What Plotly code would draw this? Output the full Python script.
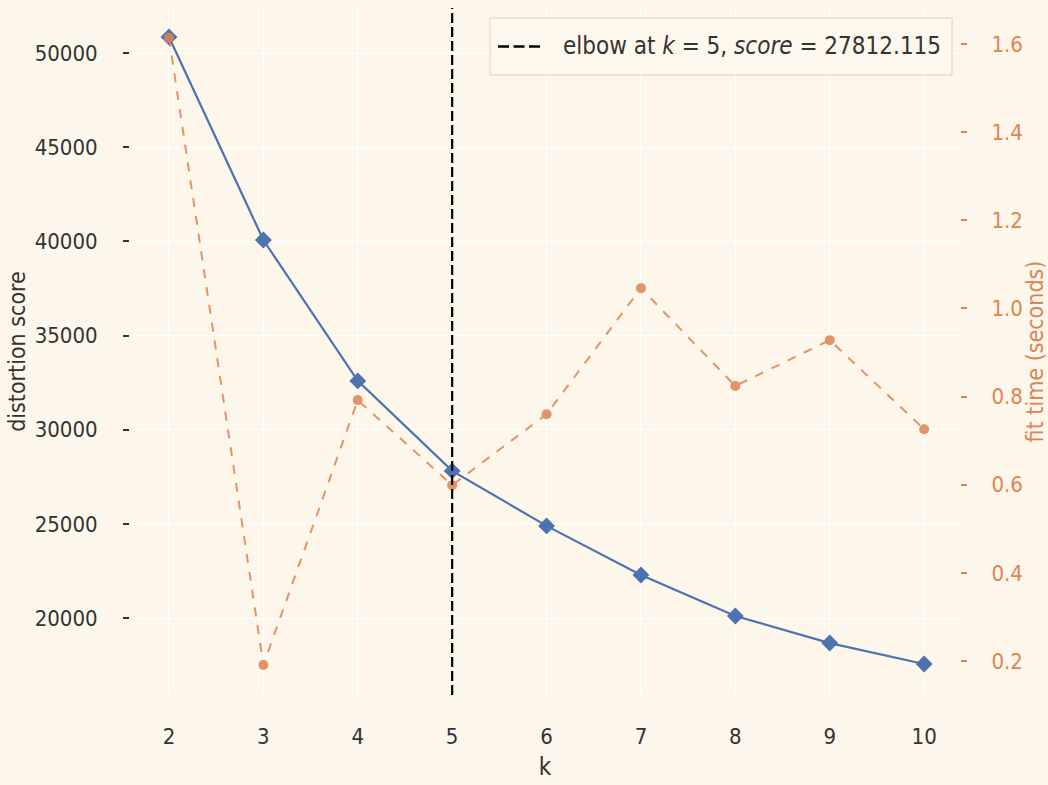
import plotly.graph_objects as go

k_values = [2, 3, 4, 5, 6, 7, 8, 9, 10]
distortion = [50850, 40070, 32590, 27812.115, 24890, 22280, 20110, 18670, 17560]
fit_time = [1.614, 0.191, 0.792, 0.599, 0.760, 1.046, 0.824, 0.928, 0.726]
left_ticks = [20000, 25000, 30000, 35000, 40000, 45000, 50000]
right_ticks = [0.2, 0.4, 0.6, 0.8, 1.0, 1.2, 1.4, 1.6]
elbow_k = 5
elbow_score = 27812.115

BLUE = "#4c72b0"
ORANGE = "#dd8452"
BG = "#fdf6ea"
FONT = "DejaVu Sans Condensed, DejaVu Sans, sans-serif"

fig = go.Figure()
fig.add_trace(go.Scatter(
    x=k_values, y=distortion, mode="lines+markers",
    line=dict(color=BLUE, width=2.2),
    marker=dict(symbol="diamond", size=13, color=BLUE),
    showlegend=False, yaxis="y", cliponaxis=False))
fig.add_trace(go.Scatter(
    x=k_values, y=fit_time, mode="lines+markers",
    line=dict(color=ORANGE, width=2, dash="dash"),
    marker=dict(symbol="circle", size=10, color=ORANGE),
    opacity=0.85, showlegend=False, yaxis="y2", cliponaxis=False))
fig.add_trace(go.Scatter(
    x=[elbow_k, elbow_k], y=[0, 1], mode="lines",
    line=dict(color="black", width=2.2, dash="10px,4px"),
    showlegend=False, yaxis="y3"))

# legend box (drawn manually to match the taller matplotlib legend)
fig.add_shape(type="rect", xref="paper", yref="paper",
              x0=0.4337, x1=0.9904, y0=0.9025, y1=0.9854,
              line=dict(color="#d8d3cc", width=1), fillcolor="rgba(253,247,236,0.9)",
              layer="above")
fig.add_shape(type="line", xref="paper", yref="paper",
              x0=0.4434, x1=0.4940, y0=0.944, y1=0.944,
              line=dict(color="black", width=2.5, dash="11px,4.5px"), layer="above")
fig.add_annotation(xref="paper", yref="paper", x=0.5195, y=0.944,
                   xanchor="left", yanchor="middle", showarrow=False,
                   text=f"elbow at <i>k</i> = {elbow_k}, <i>score</i> = {elbow_score:.3f}",
                   font=dict(size=24, color="#333333"))

fig.update_layout(
    width=1048, height=785,
    margin=dict(l=130, r=88, t=8, b=90),
    paper_bgcolor=BG, plot_bgcolor=BG,
    font=dict(family=FONT, size=22, color="#333333"),
    xaxis=dict(range=[1.587, 10.38], tickvals=k_values, showgrid=True, automargin=False,
               gridcolor="white", gridwidth=1, zeroline=False,
               ticks="", ticklabelstandoff=26, title=dict(text="k", standoff=10, font=dict(size=24)),
               tickfont=dict(size=22, color="#333333")),
    yaxis=dict(range=[15912, 52390], tickvals=left_ticks, tickformat="d", automargin=False,
               showgrid=True, gridcolor="white", gridwidth=1, zeroline=False,
               ticks="outside", ticklen=6, tickwidth=2, tickcolor="#333333",
               ticklabelstandoff=21,
               title=dict(text="distortion score", standoff=2, font=dict(size=23)),
               tickfont=dict(size=22, color="#333333")),
    yaxis2=dict(range=[0.1228, 1.6817], overlaying="y", side="right", automargin=False,
                tickvals=right_ticks, tickformat=".1f", showgrid=False, zeroline=False,
                ticks="outside", ticklen=6, tickwidth=2, tickcolor=ORANGE,
                ticklabelstandoff=20,
                tickfont=dict(size=22, color=ORANGE),
                title=dict(text="fit time (seconds)", font=dict(color=ORANGE, size=23), standoff=8)),
    yaxis3=dict(range=[0, 1], overlaying="y", visible=False),
    showlegend=False,
)

fig.write_html("out.html")
